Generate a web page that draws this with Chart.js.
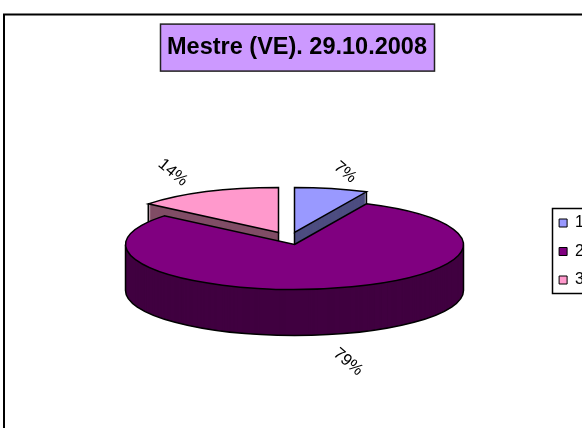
<!DOCTYPE html>
<html><head><meta charset="utf-8">
<style>html,body{margin:0;padding:0;background:#fff;overflow:hidden;width:582px;height:428px}
#w{position:absolute;left:0;top:0;width:594px;height:503px}canvas{display:block}</style>
<script src="https://cdn.jsdelivr.net/npm/chart.js@4"></script></head>
<body><div id="w"><canvas id="c" width="594" height="503"></canvas></div>
<script>
const categories = ['1', '2', '3'];
const values = [7, 79, 14];
const sliceColors = ['#9999FF', '#800080', '#FF99CC'];
const sideColors = ['#4D4D80', '#400040', '#804D66'];
const titleText = 'Mestre (VE). 29.10.2008';
const pieX = 294.5, pieY = 244.5, pieR = 169, ratio = 0.266, depth = 46;
const explodeX = [0, 0, -16], explodeY = [-12, 0, -12];
const labelReach = [1.37, 1.45, 1.47];
const labelGap = 8;
const labelAngle = 40 * Math.PI / 180;
const outline = 1.5;

let baseY = 0;
function sy(y){ return pieY + (y - baseY) * ratio; }
function wedge(ctx, a, dy){
  const cy = sy(a.y) + dy;
  ctx.beginPath();
  ctx.moveTo(a.x, cy);
  ctx.ellipse(a.x, cy, pieR, pieR * ratio, 0, a.startAngle, a.endAngle);
  ctx.closePath();
}
const pie3d = {
  id: 'pie3d',
  afterDatasetsUpdate(chart){
    const arcs = chart.getDatasetMeta(0).data;
    baseY = arcs[1].y;
    arcs.forEach((a, i) => {
      a.x = pieX + explodeX[i];
      a.y = baseY + explodeY[i] / ratio;
    });
  },
  beforeDraw(chart){
    const c = chart.ctx;
    c.save();
    c.strokeStyle = '#000'; c.lineWidth = 2;
    c.strokeRect(4, 14.5, chart.width - 5, chart.height - 20);
    const t = chart.titleBlock;
    const w = 274, h = 47, cx = (t.left + t.right) / 2, cy = (t.top + t.bottom) / 2;
    c.fillStyle = '#CC99FF'; c.strokeStyle = '#222'; c.lineWidth = outline;
    c.fillRect(cx - w / 2 + .5, cy - h / 2 + .5, w, h);
    c.strokeRect(cx - w / 2 + .5, cy - h / 2 + .5, w, h);
    c.restore();
  },
  beforeDatasetsDraw(chart){
    const c = chart.ctx, arcs = chart.getDatasetMeta(0).data;
    c.save();
    c.lineWidth = outline; c.strokeStyle = '#000';
    arcs.forEach((a, i) => {
      c.fillStyle = sideColors[i];
      for (let d = depth; d >= 1; d--) { wedge(c, a, d); c.fill(); }
      if (i !== 1) {
        const t = i === 0 ? a.endAngle : a.startAngle;
        const ax = a.x, ay = sy(a.y);
        const x = ax + pieR * Math.cos(t), y = ay + pieR * ratio * Math.sin(t);
        c.beginPath();
        c.moveTo(ax, ay); c.lineTo(ax, ay + depth);
        c.lineTo(x, y + depth); c.lineTo(x, y);
        c.stroke();
      }
    });
    const b = arcs[1], y0 = sy(b.y);
    c.beginPath();
    c.moveTo(b.x + pieR, y0);
    c.lineTo(b.x + pieR, y0 + depth);
    c.ellipse(b.x, y0 + depth, pieR, pieR * ratio, 0, 0, Math.PI);
    c.lineTo(b.x - pieR, y0);
    c.stroke();
    c.restore();
    c.save();
    c.translate(0, pieY); c.scale(1, ratio); c.translate(0, -baseY);
  },
  afterDatasetsDraw(chart){
    const c = chart.ctx, arcs = chart.getDatasetMeta(0).data;
    c.restore();
    c.save();
    c.lineWidth = outline; c.strokeStyle = '#000';
    arcs.forEach(a => { wedge(c, a, 0); c.stroke(); });
    c.fillStyle = '#000';
    c.font = '16.5px "Liberation Sans"';
    c.textAlign = 'center'; c.textBaseline = 'middle';
    const total = values.reduce((s, v) => s + v, 0);
    arcs.forEach((a, i) => {
      const m = (a.startAngle + a.endAngle) / 2;
      const x = a.x + pieR * labelReach[i] * Math.cos(m);
      let y = sy(a.y) + pieR * labelReach[i] * ratio * Math.sin(m);
      if (Math.sin(m) > 0) y += depth + labelGap;
      c.save(); c.translate(x, y); c.rotate(labelAngle);
      c.fillText(Math.round(values[i] / total * 100) + '%', 0, 0);
      c.restore();
    });
    const l = chart.legend, hb = l.legendHitBoxes;
    const mid = b => b.top + b.height / 2;
    const top = Math.round(mid(hb[0])) - 15, bot = Math.round(mid(hb[2])) + 13;
    const left = Math.round(hb[0].left) - 7;
    c.strokeRect(left + .5, top + .5, chart.width - left - 2, bot - top);
    c.restore();
  }
};
new Chart(document.getElementById('c'), {
  type: 'pie',
  data: { labels: categories, datasets: [{ data: values, backgroundColor: sliceColors, borderWidth: 0, clip: false }] },
  options: {
    responsive: false, animation: false, events: [],
    rotation: 0, radius: pieR,
    layout: { padding: 0 },
    plugins: {
      tooltip: { enabled: false },
      title: { display: true, text: titleText, color: '#000', padding: { top: 33, bottom: 33 },
        font: { family: '"Liberation Sans"', size: 23.5, weight: 'bold' } },
      legend: { position: 'right', labels: { boxWidth: 8, boxHeight: 8, padding: 12.5, color: '#000',
        font: { family: '"Liberation Sans"', size: 16 },
        generateLabels(chart){
          return Chart.overrides.pie.plugins.legend.labels.generateLabels(chart).map(o => ({ ...o, strokeStyle: '#000', lineWidth: 1 }));
        } } }
    }
  },
  plugins: [pie3d]
});
</script></body></html>
